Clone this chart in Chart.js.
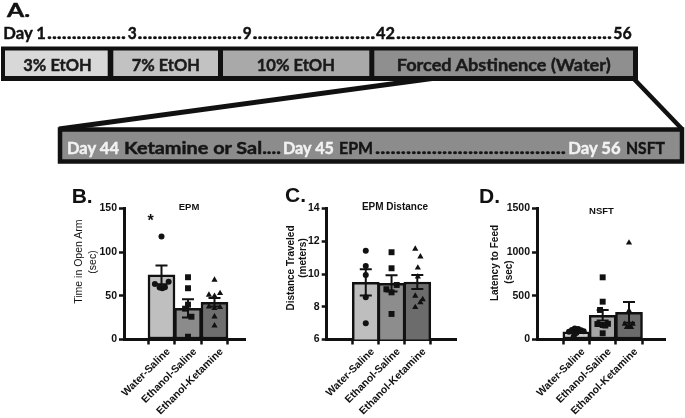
<!DOCTYPE html>
<html><head><meta charset="utf-8">
<script src="https://cdn.jsdelivr.net/npm/chart.js@4.4.0/dist/chart.umd.min.js"></script>
<style>
html,body{margin:0;padding:0;background:#fff;}
#wrap{position:relative;width:685px;height:418px;overflow:hidden;background:#fff;}
canvas{position:absolute;}
#ov{position:absolute;left:0;top:0;pointer-events:none;}
.cal{font-family:Lato,"Open Sans",sans-serif;font-weight:700;}
.ar{font-family:"Liberation Sans",Arial,sans-serif;}
</style></head><body>
<div id="wrap">
<canvas id="cB" width="161" height="238" style="left:90px;top:180px"></canvas>
<canvas id="cC" width="166" height="238" style="left:296px;top:180px"></canvas>
<canvas id="cD" width="171" height="238" style="left:500px;top:180px"></canvas>
<svg id="ov" width="685" height="418" xmlns="http://www.w3.org/2000/svg">
  <!-- schematic -->
  <g class="cal" fill="#111" stroke="#111" stroke-width="0.45">
    <text x="7" y="17" font-size="19" textLength="23" lengthAdjust="spacingAndGlyphs">A.</text>
    <g font-size="17.5">
      <text x="3.3" y="38.5" textLength="42.7" lengthAdjust="spacingAndGlyphs">Day 1</text>
      <text x="47" y="38.5" textLength="79" lengthAdjust="spacingAndGlyphs">................</text>
      <text x="127.7" y="38.5" textLength="9" lengthAdjust="spacingAndGlyphs">3</text>
      <text x="137.5" y="38.5" textLength="104.5" lengthAdjust="spacingAndGlyphs">.....................</text>
      <text x="242.7" y="38.5" textLength="9" lengthAdjust="spacingAndGlyphs">9</text>
      <text x="252.5" y="38.5" textLength="123" lengthAdjust="spacingAndGlyphs">........................</text>
      <text x="376" y="38.5" textLength="19" lengthAdjust="spacingAndGlyphs">42</text>
      <text x="396" y="38.5" textLength="216" lengthAdjust="spacingAndGlyphs">...........................................</text>
      <text x="613.3" y="38.5" textLength="18.4" lengthAdjust="spacingAndGlyphs">56</text>
    </g>
  </g>
  <rect x="1" y="46.5" width="637" height="34.5" fill="#111"/>
  <rect x="5" y="50.5" width="102.7" height="25.5" fill="#d8d8d8"/>
  <rect x="113.3" y="50.5" width="104.7" height="25.5" fill="#c2c2c2"/>
  <rect x="223" y="50.5" width="146.3" height="25.5" fill="#a9a9a9"/>
  <rect x="374.3" y="50.5" width="258.7" height="25.5" fill="#8f8f8f"/>
  <g class="cal" fill="#1a1a1a" stroke="#1a1a1a" stroke-width="0.45" font-size="17.5">
    <text x="23.3" y="71" textLength="68.4" lengthAdjust="spacingAndGlyphs">3% EtOH</text>
    <text x="131.7" y="71" textLength="68.3" lengthAdjust="spacingAndGlyphs">7% EtOH</text>
    <text x="256.7" y="71" textLength="78.3" lengthAdjust="spacingAndGlyphs">10% EtOH</text>
    <text x="396.7" y="71" textLength="214" lengthAdjust="spacingAndGlyphs">Forced Abstinence (Water)</text>
  </g>
  <line x1="432" y1="78.5" x2="59" y2="129" stroke="#111" stroke-width="5"/>
  <line x1="634" y1="79" x2="682" y2="129" stroke="#111" stroke-width="4.5"/>
  <rect x="60" y="129.5" width="622" height="32" fill="#8c8c8c" stroke="#111" stroke-width="4.5"/>
  <g class="cal" font-size="17.5" stroke-width="0.45">
    <text x="67" y="154" fill="#f2f2f2" stroke="#f2f2f2" textLength="52" lengthAdjust="spacingAndGlyphs">Day 44</text>
    <text x="124" y="154" fill="#151515" stroke="#151515" textLength="157" lengthAdjust="spacingAndGlyphs">Ketamine or Sal....</text>
    <text x="283" y="154" fill="#f2f2f2" stroke="#f2f2f2" textLength="51" lengthAdjust="spacingAndGlyphs">Day 45</text>
    <text x="339" y="154" fill="#151515" stroke="#151515" textLength="34" lengthAdjust="spacingAndGlyphs">EPM</text>
    <text x="375" y="154" fill="#151515" stroke="#151515" textLength="191" lengthAdjust="spacingAndGlyphs">.....................................</text>
    <text x="568.3" y="154" fill="#f2f2f2" stroke="#f2f2f2" textLength="52.4" lengthAdjust="spacingAndGlyphs">Day 56</text>
    <text x="626" y="154" fill="#151515" stroke="#151515" textLength="39" lengthAdjust="spacingAndGlyphs">NSFT</text>
  </g>
  <!-- panel letters and titles -->
  <g class="ar" font-weight="700" fill="#111">
    <text x="71.7" y="203.3" font-size="21">B.</text>
    <text x="285" y="201.7" font-size="21">C.</text>
    <text x="479" y="203" font-size="21">D.</text>
    <text x="189" y="209.5" font-size="9.5" text-anchor="middle">EPM</text>
    <text x="395" y="210" font-size="10" text-anchor="middle">EPM Distance</text>
    <text x="601.5" y="213.5" font-size="9.5" text-anchor="middle">NSFT</text>
    <text x="150.5" y="226" font-size="16" text-anchor="middle">*</text>
  </g>
  <g class="ar" fill="#111" font-size="10.5" text-anchor="middle" dominant-baseline="central">
    <text transform="translate(78.3,261.7) rotate(-90)">Time in Open Arm</text>
    <text transform="translate(91.7,262) rotate(-90)">(sec)</text>
    <text font-weight="700" font-size="10" transform="translate(290,268) rotate(-90)">Distance Traveled</text>
    <text font-weight="700" font-size="10" transform="translate(302,258) rotate(-90)">(meters)</text>
    <text font-weight="700" font-size="10" transform="translate(494,263) rotate(-90)">Latency to Feed</text>
    <text font-weight="700" font-size="10" transform="translate(508,272) rotate(-90)">(sec)</text>
  </g>
</svg>
</div>
<script>
// ---------- data ----------
const groups = ["Water-Saline", "Ethanol-Saline", "Ethanol-Ketamine"];

// B. EPM - time in open arm (sec)
const epmMean = [74, 35.7, 42.6];
const epmSem = [10.6, 10.4, 4.8];
const epmWater = [117.8, 63.6, 59.4, 58.7, 59.8, 66.2];
const epmWaterJitter = [0, -0.25, -0.07, 0.03, 0.13, 0.27];
const epmEthSal = [71.3, 58.7, 39.9, 35.3, 26.1, 3.2];
const epmEthSalJitter = [0, 0, 0, -0.11, 0.13, 0];
const epmEthKet = [68.2, 51, 49.8, 52.9, 37.6, 35.7, 36.9, 26.1, 15.8];
const epmEthKetJitter = [0, -0.21, 0, 0.21, -0.21, 0, 0.21, 0, 0];
const epmTicks = [0, 50, 100, 150];

// C. EPM distance traveled (meters)
const distMean = [9.49, 9.43, 9.51];
const distSem = [0.8, 0.5, 0.43];
const distWater = [11.42, 10.49, 9.94, 8.58, 6.99];
const distWaterJitter = [0, 0, 0, 0, 0];
const distEthSal = [11.33, 10.35, 9.07, 9.33, 8.88, 7.56];
const distEthSalJitter = [0, 0, -0.2, 0.2, 0, 0];
const distEthKet = [11.53, 11.06, 10.38, 9.84, 8.66, 8.45, 8.27, 7.97];
const distEthKetJitter = [-0.08, 0.12, 0.02, 0.02, -0.08, 0.21, 0.12, -0.08];
const distTicks = [6, 8, 10, 12, 14];

// D. NSFT latency to feed (sec)
const nsftMean = [89, 277, 311];
const nsftSem = [13, 60, 118];
const nsftWater = [90, 110, 125, 120, 105, 95, 35, 75];
const nsftWaterJitter = [-0.28, -0.17, -0.06, 0.07, 0.18, 0.28, -0.1, 0];
const nsftEthSal = [712, 433, 338, 177, 166, 180, 160, 71];
const nsftEthSalJitter = [0, 0, -0.1, -0.2, 0, 0.2, 0.1, 0];
const nsftEthKet = [1108, 330, 177, 177, 140, 140, 155];
const nsftEthKetJitter = [0, 0, -0.16, 0.14, -0.08, 0.08, 0];
const nsftTicks = [0, 500, 1000, 1500];

// ---------- drawing ----------
Chart.defaults.font.family = '"Liberation Sans", Arial, sans-serif';
Chart.defaults.color = '#111';

function errPlugin(means, sems) {
  return {
    id: 'errbars',
    afterDatasetDraw(chart, args) {
      if (args.index !== chart.data.datasets.length - 1) return;
      const ctx = chart.ctx, x = chart.scales.x, y = chart.scales.y;
      ctx.save();
      ctx.strokeStyle = '#111';
      ctx.lineWidth = 2;
      means.forEach((m, i) => {
        const px = x.getPixelForValue(i);
        const t = y.getPixelForValue(m + sems[i]);
        const b = y.getPixelForValue(m - sems[i]);
        ctx.beginPath();
        ctx.moveTo(px, t); ctx.lineTo(px, b);
        ctx.moveTo(px - 6, t); ctx.lineTo(px + 6, t);
        ctx.moveTo(px - 6, b); ctx.lineTo(px + 6, b);
        ctx.stroke();
      });
      ctx.restore();
    }
  };
}

function pts(vals, jit, gi) { return vals.map((v, k) => ({x: gi + jit[k], y: v})); }

function makeChart(id, cfg) {
  const styles = ['circle', 'rect', 'triangle'];
  const radii = [3, 4.2, 3.6];
  const scatter = cfg.points.map((p, gi) => ({
    type: 'scatter',
    data: pts(p[0], p[1], gi),
    pointStyle: styles[gi],
    pointRadius: radii[gi],
    pointBackgroundColor: '#111',
    pointBorderWidth: 0,
    showLine: false,
    clip: false
  }));
  const bar = {
    type: 'bar',
    data: cfg.means.map((m, i) => ({x: i, y: m})),
    backgroundColor: cfg.colors,
    borderColor: '#111',
    borderWidth: 2.5,
    borderSkipped: false,
    barThickness: 27
  };
  new Chart(document.getElementById(id), {
    type: 'bar',
    data: {datasets: [...scatter, bar]},
    plugins: [errPlugin(cfg.means, cfg.sems)],
    options: {
      responsive: false,
      animation: false,
      devicePixelRatio: 1,
      layout: {padding: {top: 28.5, right: 6, left: 0, bottom: 0}},
      plugins: {legend: {display: false}, tooltip: {enabled: false}},
      scales: {
        x: {
          type: 'linear',
          min: cfg.xmin, max: cfg.xmax,
          afterBuildTicks: s => { s.ticks = groups.map((g, i) => ({value: i})); },
          afterFit: s => { s.height = 78.5; },
          ticks: {
            callback: (v, i) => groups[i],
            autoSkip: false, minRotation: 45, maxRotation: 45,
            font: {size: 10.5, weight: 'bold'}, color: '#111', padding: 1, labelOffset: 7
          },
          grid: {display: true, drawOnChartArea: false, drawTicks: true, tickLength: 5, tickWidth: 2.5, tickColor: '#111'},
          border: {display: true, color: '#111', width: 3}
        },
        y: {
          min: cfg.yTicks[0], max: cfg.yTicks[cfg.yTicks.length - 1],
          afterBuildTicks: s => { s.ticks = cfg.yTicks.map(v => ({value: v})); },
          afterFit: s => { s.width = cfg.yw; },
          ticks: {callback: v => String(v), font: {size: 10.5, weight: 'bold'}, color: '#111', padding: 2},
          grid: {display: true, drawOnChartArea: false, drawTicks: true, tickLength: 5, tickWidth: 2.5, tickColor: '#111'},
          border: {display: true, color: '#111', width: 3}
        }
      }
    }
  });
}

makeChart('cB', {
  means: epmMean, sems: epmSem, yTicks: epmTicks, yw: 34, xmin: -0.654, xmax: 2.39,
  colors: ['#bfbfbf', '#8b8b8b', '#6f6f6f'],
  points: [[epmWater, epmWaterJitter], [epmEthSal, epmEthSalJitter], [epmEthKet, epmEthKetJitter]]
});
makeChart('cC', {
  means: distMean, sems: distSem, yTicks: distTicks, yw: 30.7, xmin: -0.68, xmax: 2.665,
  colors: ['#bebebe', '#8d8d8d', '#6c6c6c'],
  points: [[distWater, distWaterJitter], [distEthSal, distEthSalJitter], [distEthKet, distEthKetJitter]]
});
makeChart('cD', {
  means: nsftMean, sems: nsftSem, yTicks: nsftTicks, yw: 37, xmin: -0.684, xmax: 2.557,
  colors: ['#cfcfcf', '#a6a6a6', '#6b6b6b'],
  points: [[nsftWater, nsftWaterJitter], [nsftEthSal, nsftEthSalJitter], [nsftEthKet, nsftEthKetJitter]]
});
</script>
</body></html>
